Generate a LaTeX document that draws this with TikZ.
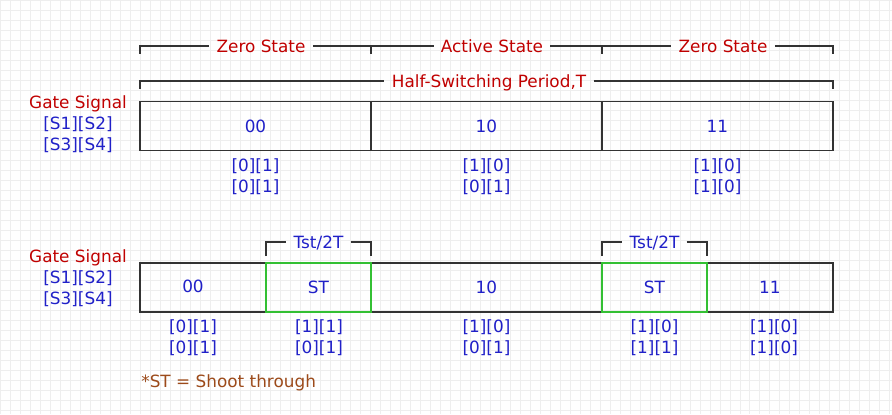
\documentclass[tikz,border=0pt]{standalone}
\usepackage{fontspec}
\setmainfont{DejaVu Sans}
\usepackage{tikz}
\usetikzlibrary{
  positioning
}
\definecolor{sigred}{HTML}{C00000}
\definecolor{bitblue}{HTML}{2020C8}
\definecolor{boxgray}{HTML}{333333}
\definecolor{stgreen}{HTML}{33C033}
\definecolor{notebrown}{HTML}{9C4A1A}
\definecolor{gridgray}{HTML}{EEEEEE}
\tikzset{
  cell/.style={
    rectangle, draw=boxgray, line width=1.1pt,
    minimum height=0.98cm, inner sep=0pt, outer sep=0pt,
    text=bitblue
  },
  stcell/.style={cell, draw=none},
  stframe/.style={draw=stgreen, line width=1.1pt},
  bracket/.style={draw=boxgray, line width=1.1pt},
  statelabel/.style={
    text=sigred, inner sep=4pt,
    text height=7pt, text depth=0pt
  },
  tstlabel/.style={statelabel, text=bitblue},
  bitlabel/.style={align=center, text=bitblue, inner sep=0pt},
  gatelabel/.style={align=center, text=bitblue, inner sep=0pt},
  gridline/.style={draw=gridgray, line width=0.4pt}
}

\begin{document}
\begin{tikzpicture}[x=0.02cm, y=-0.02cm, font=\fontsize{9.6}{11.9}\selectfont]

\useasboundingbox (0,0) rectangle (892,414);
\draw[gridline] (0,0) grid[step=0.2cm] (892,414);

% Upper sequence
\node[cell, minimum width=4.62cm] (c1) at (255.5,126) {00};
\node[cell, minimum width=4.62cm, right=0pt of c1] (c2) {10};
\node[cell, minimum width=4.62cm, right=0pt of c2] (c3) {11};

\node[gatelabel] (g1) at (78,124)
  {\textcolor{sigred}{Gate Signal}\\{[S1][S2]}\\{[S3][S4]}};

\node[bitlabel] (b1) at (255.5,176.5) {[0][1]\\{[0][1]}};
\node[bitlabel] (b2) at (486.5,176.5) {[1][0]\\{[0][1]}};
\node[bitlabel] (b3) at (717.5,176.5) {[1][0]\\{[1][0]}};

% State brackets
\node[statelabel] (zs1) at (261,46) {Zero State};
\node[statelabel] (as) at (492,46) {Active State};
\node[statelabel] (zs2) at (723,46) {Zero State};
\draw[bracket] ([yshift=0.96cm]c1.north west) |- (zs1.west);
\draw[bracket] (zs1.east) -| ([yshift=0.96cm]c1.north east);
\draw[bracket] ([yshift=0.96cm]c2.north west) |- (as.west);
\draw[bracket] (as.east) -| ([yshift=0.96cm]c2.north east);
\draw[bracket] ([yshift=0.96cm]c3.north west) |- (zs2.west);
\draw[bracket] (zs2.east) -| ([yshift=0.96cm]c3.north east);

% Period bracket
\node[statelabel] (hsp) at (489,81) {Half-Switching Period,T};
\draw[bracket] ([yshift=0.26cm]c1.north west) |- (hsp.west);
\draw[bracket] (hsp.east) -| ([yshift=0.26cm]c3.north east);

% Lower sequence with shoot through
\node[cell, minimum width=2.52cm] (s1) at (203,287.5) {};
\node[stcell, minimum width=2.1cm, right=0pt of s1] (s2) {ST};
\node[cell, minimum width=4.62cm, right=0pt of s2] (s3) {10};
\node[stcell, minimum width=2.1cm, right=0pt of s3] (s4) {ST};
\node[cell, minimum width=2.52cm, right=0pt of s4] (s5) {11};
\foreach \n in {s2,s4}
  \draw[stframe] (\n.south west) rectangle (\n.north east);
\node[text=bitblue, inner sep=0pt] (s1t) at (193,286.5) {00};

\node[gatelabel] (g2) at (78,278)
  {\textcolor{sigred}{Gate Signal}\\{[S1][S2]}\\{[S3][S4]}};

\node[bitlabel] (d1) at (193,337.5) {[0][1]\\{[0][1]}};
\node[bitlabel] (d2) at (319,337.5) {[1][1]\\{[0][1]}};
\node[bitlabel] (d3) at (486.5,337.5) {[1][0]\\{[0][1]}};
\node[bitlabel] (d4) at (654.5,337.5) {[1][0]\\{[1][1]}};
\node[bitlabel] (d5) at (774,337.5) {[1][0]\\{[1][0]}};

% Tst brackets
\node[tstlabel] (t1) at (318.5,242) {Tst/2T};
\node[tstlabel] (t2) at (654.5,242) {Tst/2T};
\draw[bracket] ([yshift=0.14cm]s2.north west) |- (t1.west);
\draw[bracket] (t1.east) -| ([yshift=0.14cm]s2.north east);
\draw[bracket] ([yshift=0.14cm]s4.north west) |- (t2.west);
\draw[bracket] (t2.east) -| ([yshift=0.14cm]s4.north east);

% Note
\node[anchor=west, inner sep=0pt, text=notebrown] (note) at (141,383)
  {*ST = Shoot through};

\end{tikzpicture}
\end{document}
